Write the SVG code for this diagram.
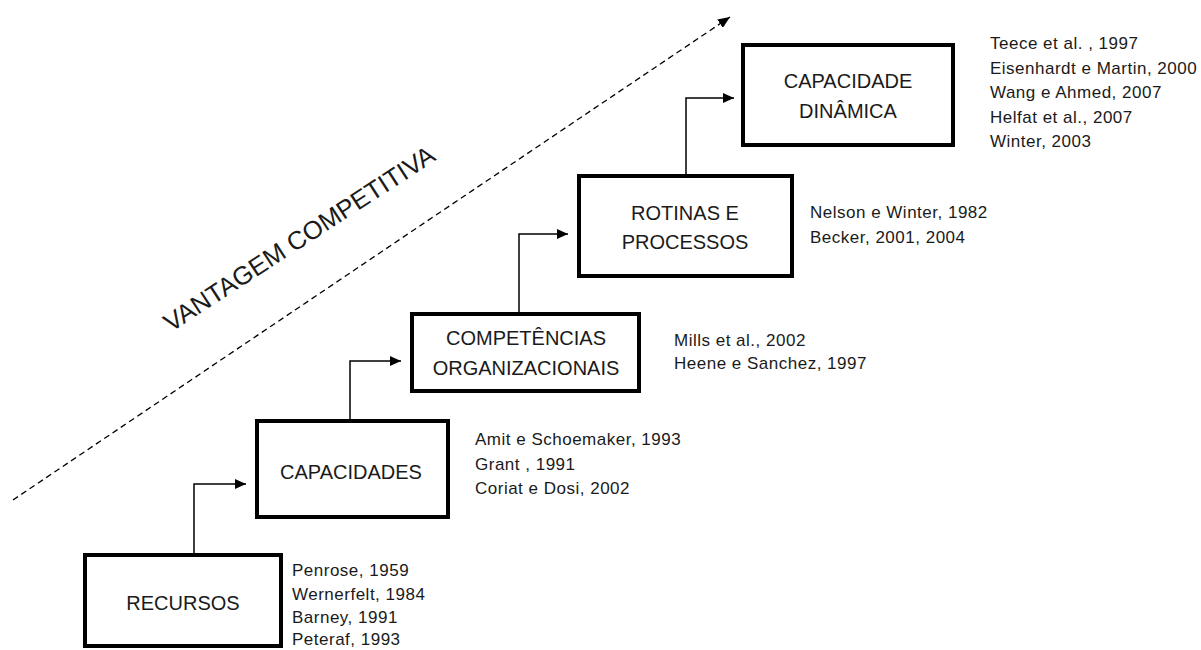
<svg xmlns="http://www.w3.org/2000/svg" width="1201" height="650" viewBox="0 0 1201 650">
<style>
.box{fill:#fff;stroke:#000;stroke-width:4}
.lbl{font-family:"Liberation Sans",Arial,sans-serif;font-size:20px;fill:#1a1a1a;text-anchor:middle}
.ref{font-family:"Liberation Sans",Arial,sans-serif;font-size:17px;letter-spacing:0.5px;fill:#1a1a1a}
.con{fill:none;stroke:#000;stroke-width:1.5}
.dash{fill:none;stroke:#000;stroke-width:1.3;stroke-dasharray:6 4}
.title{font-family:"Liberation Sans",Arial,sans-serif;font-size:25.5px;fill:#1a1a1a;text-anchor:middle}
</style>
<defs>
<marker id="ah" markerUnits="userSpaceOnUse" markerWidth="11" markerHeight="10" refX="11" refY="5" orient="auto">
<path d="M0,0 L11,5 L0,10 z" fill="#000"/>
</marker>
<marker id="ahd" markerUnits="userSpaceOnUse" markerWidth="12" markerHeight="10" refX="12" refY="5" orient="auto">
<path d="M0,0 L12,5 L0,10 z" fill="#000"/>
</marker>
</defs>
<rect width="1201" height="650" fill="#fff"/>
<g id="connectors">
<path class="dash" d="M13,500 L730,17" marker-end="url(#ahd)"/>
<path class="con" d="M194,553 V484 H246" marker-end="url(#ah)"/>
<path class="con" d="M350,419 V361 H401" marker-end="url(#ah)"/>
<path class="con" d="M519,312 V234 H568" marker-end="url(#ah)"/>
<path class="con" d="M686,174 V98 H734" marker-end="url(#ah)"/>
</g>
<g id="title">
<text class="title" x="304" y="246" transform="rotate(-33 304 246)">VANTAGEM COMPETITIVA</text>
</g>
<g id="recursos">
<rect class="box" x="85" y="555" width="196" height="91"/>
<text class="lbl" x="183" y="610">RECURSOS</text>
<text class="ref" x="292" y="576">Penrose, 1959</text>
<text class="ref" x="292" y="600">Wernerfelt, 1984</text>
<text class="ref" x="292" y="623">Barney, 1991</text>
<text class="ref" x="292" y="645">Peteraf, 1993</text>
</g>
<g id="capacidades">
<rect class="box" x="257" y="421" width="191" height="96"/>
<text class="lbl" x="351" y="479">CAPACIDADES</text>
<text class="ref" x="475" y="445">Amit e Schoemaker, 1993</text>
<text class="ref" x="475" y="470">Grant , 1991</text>
<text class="ref" x="475" y="494">Coriat e Dosi, 2002</text>
</g>
<g id="competencias">
<rect class="box" x="412" y="314" width="227" height="77"/>
<text class="lbl" x="526" y="345">COMPETÊNCIAS</text>
<text class="lbl" x="526" y="375">ORGANIZACIONAIS</text>
<text class="ref" x="674" y="346">Mills et al., 2002</text>
<text class="ref" x="674" y="369">Heene e Sanchez, 1997</text>
</g>
<g id="rotinas">
<rect class="box" x="579" y="176" width="213" height="100"/>
<text class="lbl" x="685" y="220">ROTINAS E</text>
<text class="lbl" x="685" y="249">PROCESSOS</text>
<text class="ref" x="810" y="218">Nelson e Winter, 1982</text>
<text class="ref" x="810" y="243">Becker, 2001, 2004</text>
</g>
<g id="dinamica">
<rect class="box" x="743" y="45" width="210" height="100"/>
<text class="lbl" x="848" y="88">CAPACIDADE</text>
<text class="lbl" x="848" y="118">DINÂMICA</text>
<text class="ref" x="990" y="49">Teece et al. , 1997</text>
<text class="ref" x="990" y="73.5">Eisenhardt e Martin, 2000</text>
<text class="ref" x="990" y="98">Wang e Ahmed, 2007</text>
<text class="ref" x="990" y="122.5">Helfat et al., 2007</text>
<text class="ref" x="990" y="147">Winter, 2003</text>
</g>
</svg>
